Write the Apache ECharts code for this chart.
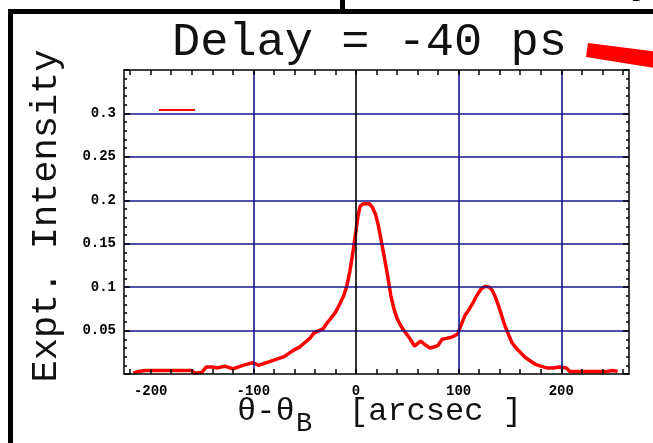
<!DOCTYPE html>
<html><head><meta charset="utf-8">
<script src="https://cdn.jsdelivr.net/npm/echarts@6/dist/echarts.min.js"></script>
<style>html,body{margin:0;padding:0;background:#fff}#c{width:653px;height:443px}</style>
</head><body><div id="c"></div>
<script>
// ---- data ----
const angle = [-217,-212,-205,-195,-185,-175,-165,-160,-157,-150,-146,-140,-135,-128,-120,-115,-110,-104,-100,-95,-90,-85,-80,-75,-70,-65,-60,-55,-50,-45,-41,-36,-32,-28,-24,-20,-16,-12,-9,-6,-3,0,2,4,7,10,13,16,19,22,25,28,31,34,37,40,43,46,50,53,57,60,63,67,72,76,80,84,88,92,96,99,102,106,110,114,118,122,126,130,133,136,139,142,145,148,152,156,160,165,170,175,180,186,192,198,205,208,220,235,245,250,255];
const intensity = [0.001,0.003,0.004,0.004,0.004,0.004,0.004,0.004,0.001,0.002,0.008,0.008,0.007,0.009,0.006,0.008,0.010,0.012,0.013,0.010,0.012,0.014,0.016,0.018,0.020,0.024,0.028,0.031,0.036,0.041,0.047,0.050,0.052,0.059,0.065,0.071,0.080,0.090,0.101,0.118,0.140,0.165,0.182,0.193,0.196,0.196,0.196,0.192,0.184,0.170,0.151,0.132,0.112,0.090,0.075,0.064,0.057,0.051,0.045,0.040,0.032,0.035,0.038,0.034,0.030,0.031,0.033,0.040,0.041,0.042,0.044,0.046,0.055,0.067,0.074,0.082,0.091,0.098,0.101,0.100,0.096,0.088,0.078,0.067,0.056,0.047,0.036,0.030,0.025,0.019,0.015,0.011,0.009,0.007,0.007,0.008,0.007,0.003,0.003,0.003,0.003,0.004,0.003];
const xLabelValues = [-200,-100,0,100,200];
const xTickValues = [-220,-200,-180,-160,-140,-120,-100,-80,-60,-40,-20,0,20,40,60,80,100,120,140,160,180,200,220,240,260];
const xGridValues = [-100,100,200];
const xAxisLineValues = [0];
const titleText = 'Delay = -40 ps';
const yName = 'Expt. Intensity';

const mono = '"Liberation Mono", "DejaVu Sans Mono", monospace';
const gridBlue = '#16168f';

const chart = echarts.init(document.getElementById('c'), null, {renderer:'canvas'});
const frameAxisLine = {show:true, onZero:false, lineStyle:{color:'#000', width:1.5}};
const option = {
  animation:false,
  backgroundColor:'#fff',
  title:{text:titleText, left:172, top:19, padding:0,
    textStyle:{fontFamily:mono, fontSize:47, fontWeight:'normal', color:'#111'}},
  grid:{left:124, right:24, top:70, bottom:69},
  xAxis:[
    {type:'value', min:-226, max:266, position:'bottom', z:5,
     axisLine:frameAxisLine,
     axisTick:{show:true, inside:true, length:5, customValues:xTickValues, lineStyle:{color:'#000', width:1.5}},
     axisLabel:{show:true, customValues:xLabelValues, margin:10, fontFamily:mono, fontWeight:'bold', fontSize:14, color:'#000'},
     splitLine:{show:false}},
    {type:'value', min:-226, max:266, position:'top', z:5,
     axisLine:frameAxisLine,
     axisTick:{show:true, inside:true, length:5, customValues:xTickValues, lineStyle:{color:'#000', width:1.5}},
     axisLabel:{show:false},
     splitLine:{show:false}}
  ],
  yAxis:[
    {type:'value', min:0, max:0.35, interval:0.05, position:'left', z:4,
     axisLine:frameAxisLine,
     axisTick:{show:true, inside:true, length:6, lineStyle:{color:'#000', width:1.5}},
     minorTick:{show:true, splitNumber:5, length:3, lineStyle:{color:'#000', width:1.5}},
     axisLabel:{show:true, showMinLabel:false, showMaxLabel:false, margin:8, fontFamily:mono, fontWeight:'bold', fontSize:14, color:'#000'},
     splitLine:{show:true, showMinLine:false, showMaxLine:false, lineStyle:{color:gridBlue, width:1.6}}},
    {type:'value', min:0, max:0.35, interval:0.05, position:'right', z:4,
     axisLine:frameAxisLine,
     axisTick:{show:true, inside:true, length:6, lineStyle:{color:'#000', width:1.5}},
     minorTick:{show:true, splitNumber:5, length:3, lineStyle:{color:'#000', width:1.5}},
     axisLabel:{show:false},
     splitLine:{show:false}}
  ],
  series:[
    {type:'line', xAxisIndex:0, yAxisIndex:0, data:[], z:1, silent:true,
     markLine:{silent:true, symbol:'none', label:{show:false}, animation:false,
       data: xGridValues.map(v=>({xAxis:v, lineStyle:{color:gridBlue, width:1.6, type:'solid'}}))
         .concat(xAxisLineValues.map(v=>({xAxis:v, lineStyle:{color:'#000', width:1.6, type:'solid'}})))}},
    {type:'line', xAxisIndex:0, yAxisIndex:0, z:3, showSymbol:false, symbol:'none',
     data: angle.map((a,i)=>[a, intensity[i]]),
     lineStyle:{color:'#ff0000', width:3.5}}
  ],
  graphic:[
    {type:'rect', shape:{x:8, y:9, width:5, height:440}, style:{fill:'#000'}},
    {type:'rect', shape:{x:8, y:9, width:650, height:5}, style:{fill:'#000'}},
    {type:'rect', shape:{x:340, y:0, width:5, height:10}, style:{fill:'#000'}},
    {type:'text', x:637, y:5, style:{text:'B', font:'18px '+mono, fill:'#000', textAlign:'center', textVerticalAlign:'bottom'}},
    {type:'polygon', shape:{points:[[588,43],[660,52],[660,69],[586,57]]}, style:{fill:'#ff0000'}},
    {type:'line', shape:{x1:159, y1:110, x2:195, y2:110}, style:{stroke:'#ff0000', lineWidth:2}},
    {type:'text', x:46, y:216, rotation:Math.PI/2,
     style:{text:yName, font:'37px '+mono, fill:'#111', textAlign:'center', textVerticalAlign:'middle'}},
    {type:'text', x:237, y:428,
     style:{text:'θ-θ', font:'32px '+mono, fill:'#111', textAlign:'left', textVerticalAlign:'bottom'}},
    {type:'text', x:296, y:437,
     style:{text:'B', font:'27px '+mono, fill:'#111', textAlign:'left', textVerticalAlign:'bottom'}},
    {type:'text', x:349, y:428,
     style:{text:'[arcsec ]', font:'32px '+mono, fill:'#111', textAlign:'left', textVerticalAlign:'bottom'}}
  ]
};
chart.setOption(option);
</script>
</body></html>
